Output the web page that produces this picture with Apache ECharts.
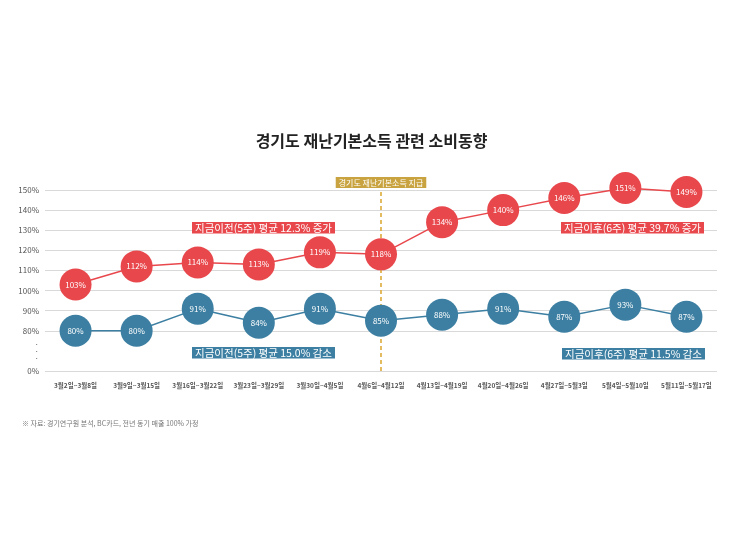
<!DOCTYPE html>
<html>
<head>
<meta charset="utf-8">
<script src="https://cdn.jsdelivr.net/npm/echarts@6/dist/echarts.min.js"></script>
<style>
  html, body { margin: 0; padding: 0; background: #fff; }
  #chart { width: 743px; height: 557px; }
</style>
</head>
<body>
<div id="chart"></div>
<script>
var weeks = ['3월2일~3월8일', '3월9일~3월15일', '3월16일~3월22일', '3월23일~3월29일', '3월30일~4월5일',
    '4월6일~4월12일', '4월13일~4월19일', '4월20일~4월26일', '4월27일~5월3일', '5월4일~5월10일', '5월11일~5월17일']
var sales = [103, 112, 114, 113, 119, 118, 134, 140, 146, 151, 149]
var card = [80, 80, 91, 84, 91, 85, 88, 91, 87, 93, 87]
var payWeek = '4월6일~4월12일'

var font = '"Noto Sans CJK KR", "Noto Sans", sans-serif'
var red = '#e8474c'
var blue = '#3c7fa2'
var gold = '#c9a33f'

// split line colours cycle from min: hide the 70 line (axis break)
var grid_colors = ['#d9d9d9', 'rgba(0,0,0,0)', '#d9d9d9', '#d9d9d9', '#d9d9d9',
    '#d9d9d9', '#d9d9d9', '#d9d9d9', '#d9d9d9', '#d9d9d9']

function box(text, left, top, color) {
    return {
        type: 'text',
        left: left,
        top: top,
        z: 100,
        style: {
            text: text,
            fill: '#fff',
            font: '10.5px ' + font,
            backgroundColor: color,
            padding: [1, 3, 0, 3]
        }
    }
}

var point_label = {
    show: true,
    position: 'inside',
    color: '#fff',
    fontSize: 8,
    formatter: '{c}%'
}

var option = {
    animation: false,
    backgroundColor: '#fff',
    textStyle: { fontFamily: font },
    title: {
        text: '경기도 재난기본소득 관련 소비동향',
        left: 'center',
        top: 128,
        textStyle: { fontSize: 16, fontWeight: 'bold', color: '#222', fontFamily: font }
    },
    grid: { left: 45, right: 26, top: 190, bottom: 186 },
    xAxis: {
        type: 'category',
        data: weeks,
        boundaryGap: true,
        axisLine: { show: false },
        axisTick: { show: false },
        axisLabel: {
            interval: 0,
            fontSize: 6.5,
            fontWeight: 'bold',
            color: '#555',
            margin: 11
        }
    },
    yAxis: {
        type: 'value',
        min: 60,
        max: 150,
        interval: 10,
        axisLine: { show: false },
        axisTick: { show: false },
        axisLabel: {
            fontSize: 8,
            color: '#555',
            margin: 6,
            lineHeight: 7,
            formatter: function (v) {
                if (v == 60) return '0%'
                if (v == 70) return '·\n·\n·'
                return v + '%'
            }
        },
        splitLine: { lineStyle: { color: grid_colors, width: 1 } }
    },
    series: [
        {
            name: 'pay',
            type: 'line',
            data: [],
            z: 1,
            markLine: {
                silent: true,
                z: 1,
                symbol: 'none',
                lineStyle: { color: '#dcaa3a', type: [4, 3], width: 1.6 },
                label: {
                    show: true,
                    position: 'end',
                    distance: 2,
                    formatter: '경기도 재난기본소득 지급',
                    color: '#fff',
                    fontSize: 8,
                    backgroundColor: gold,
                    padding: [2, 3, 1, 3]
                },
                data: [{ xAxis: payWeek }]
            }
        },
        {
            name: 'sales',
            type: 'line',
            data: sales,
            z: 3,
            clip: false,
            symbol: 'circle',
            symbolSize: 32,
            itemStyle: { color: red },
            lineStyle: { color: red, width: 1.5 },
            label: point_label
        },
        {
            name: 'card',
            type: 'line',
            data: card,
            z: 3,
            clip: false,
            symbol: 'circle',
            symbolSize: 32,
            itemStyle: { color: blue },
            lineStyle: { color: blue, width: 1.5 },
            label: point_label
        }
    ],
    graphic: [
        box('지금이전(5주) 평균 12.3% 증가', 192, 222, red),
        box('지금이후(6주) 평균 39.7% 증가', 561, 222, red),
        box('지금이전(5주) 평균 15.0% 감소', 192, 347, blue),
        box('지금이후(6주) 평균 11.5% 감소', 562, 348, blue),
        {
            type: 'text',
            left: 22,
            top: 420,
            style: { text: '※ 자료: 경기연구원 분석, BC카드, 전년 동기 매출 100% 가정', fill: '#777', font: '7px ' + font }
        }
    ]
}

var chart = echarts.init(document.getElementById('chart'))
chart.setOption(option)
</script>
</body>
</html>
